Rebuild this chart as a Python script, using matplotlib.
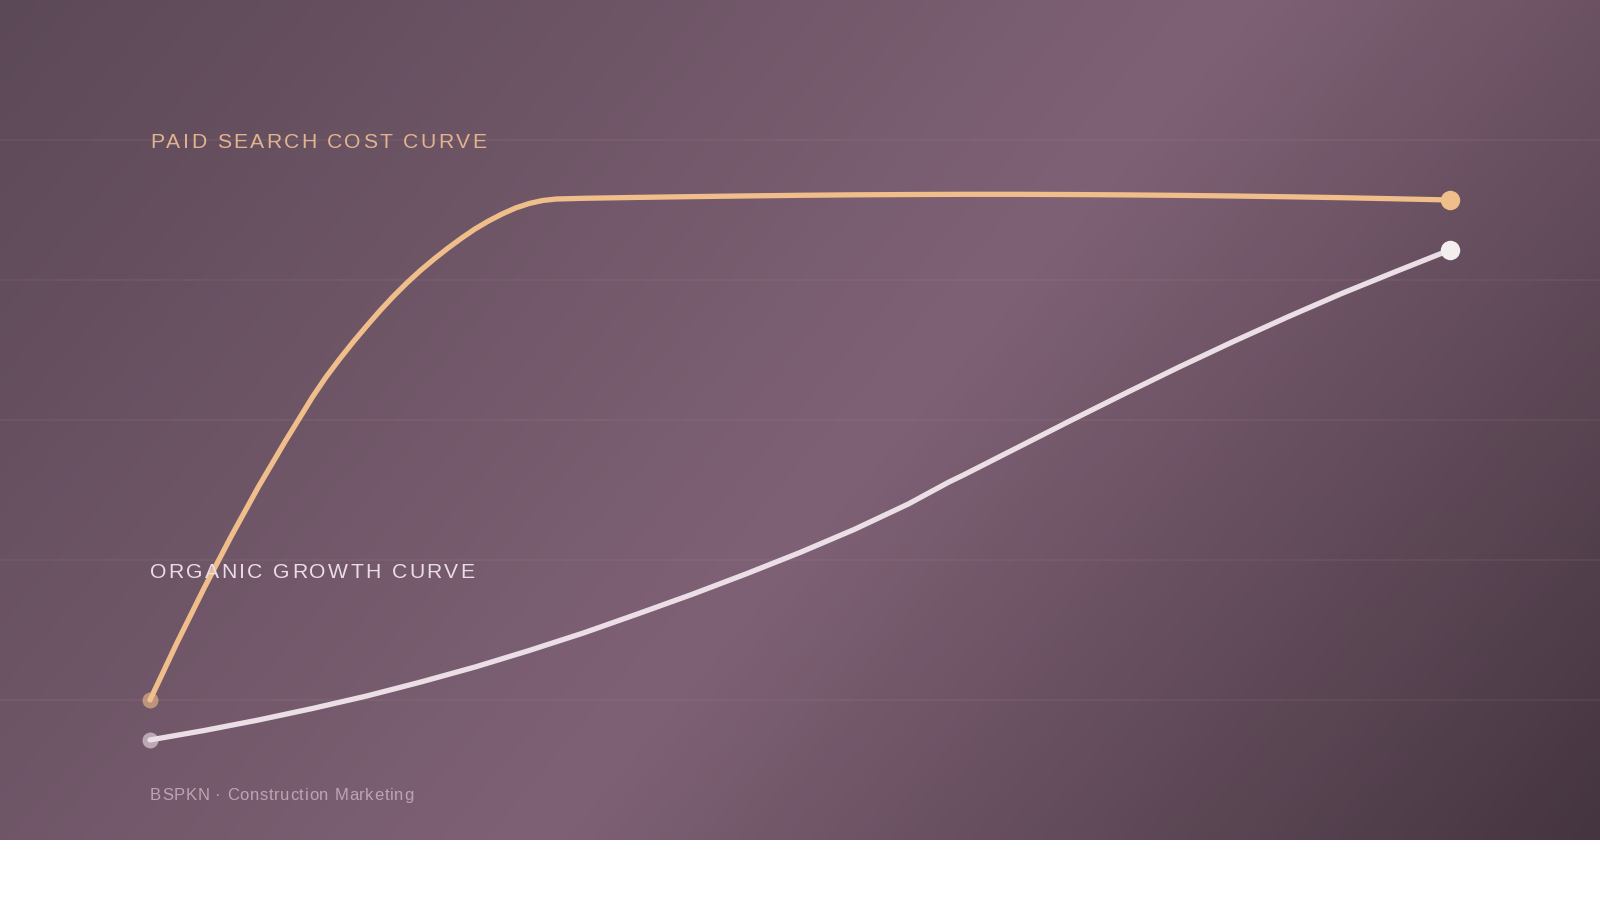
import numpy as np
import matplotlib
matplotlib.use("Agg")
import matplotlib.pyplot as plt
from matplotlib.colors import LinearSegmentedColormap
from matplotlib.font_manager import FontProperties

# ---------------- data (months vs. index) ----------------
paid_months = [0, 0.5, 1, 1.5, 2, 2.25, 2.5, 2.75, 3, 3.25, 3.5, 3.75,
               4, 4.25, 4.5, 4.75, 5, 5.25, 5.5, 5.75, 6, 6.25, 6.5, 6.75,
               7, 7.25, 7.5, 8,
               9, 10, 11, 12, 13, 14, 15, 16, 17, 18, 19, 20, 21, 22, 23, 24]
paid_cost = [20.0, 28.2, 36.0, 43.4, 50.43, 53.71, 57.0, 60.14, 63.29, 66.14, 68.71, 71.14,
             73.43, 75.65, 77.72, 79.64, 81.41, 83.03, 84.55, 85.97, 87.29, 88.43, 89.43, 90.29,
             90.93, 91.36, 91.57, 91.67,
             91.80, 91.91, 92.01, 92.10, 92.17, 92.21, 92.24, 92.24, 92.21, 92.16, 92.09,
             92.0, 91.89, 91.76, 91.6, 91.43]

organic_months = [0, 1, 2, 3, 4, 5, 6, 7, 8, 9, 10, 11, 12, 13, 14, 14.75,
                  15, 16, 17, 18, 19, 20, 21, 22, 23, 24]
organic_growth = [14.29, 15.64, 17.14, 18.79, 20.57, 22.57, 24.71, 27.07, 29.57, 32.29,
                  35.07, 38.0, 41.07, 44.36, 48.0, 51.14, 52.07, 56.0, 59.93, 63.79,
                  67.57, 71.21, 74.71, 78.07, 81.21, 84.29]

grid_levels = [20, 40, 60, 80, 100]

paid_label = "PAID SEARCH COST CURVE"
organic_label = "ORGANIC GROWTH CURVE"
footer_label = "BSPKN · Construction Marketing"

# ---------------- styling ----------------
PAID_COLOR = "#f0be8a"
ORGANIC_COLOR = "#ebdfe5"
W, H = 1600, 900
BG_H = 840

plt.rcParams['font.family'] = ['Liberation Sans', 'DejaVu Sans']

fig = plt.figure(figsize=(16, 9), dpi=100)
fig.patch.set_facecolor("white")

# background gradient
ax_bg = fig.add_axes([0, (H - BG_H) / H, 1, BG_H / H])
ax_bg.set_axis_off()
nx, ny = 400, 210
xs = np.linspace(0, W, nx)
ys = np.linspace(0, BG_H, ny)
X, Y = np.meshgrid(xs, ys)
T = (X * 840 + Y * 700) / (W * 840 + BG_H * 700)
cmap = LinearSegmentedColormap.from_list(
    "bg", [(0.0, "#5c4957"), (0.54, "#7f6175"), (1.0, "#453540")])
ax_bg.imshow(T, cmap=cmap, aspect="auto", extent=[0, 1, 0, 1],
             origin="upper", vmin=0, vmax=1, interpolation="bilinear")
ax_bg.set_xlim(0, 1)
ax_bg.set_ylim(0, 1)

# main axes (same region, transparent)
ax = fig.add_axes([0, (H - BG_H) / H, 1, BG_H / H])
ax.set_facecolor("none")
px_per_month = 1300 / 24
ax.set_xlim(-150 / px_per_month, (W - 150) / px_per_month)
ax.set_ylim(0, BG_H / 7)
for s in ax.spines.values():
    s.set_visible(False)
ax.set_xticks([])
ax.set_yticks([])

for g in grid_levels:
    ax.axhline(g, color="#d4a8a8", alpha=0.09, lw=1.2, zorder=1)

# start dots (translucent, under the lines)
ax.plot(paid_months[0], paid_cost[0], 'o', ms=11.5, color=PAID_COLOR, alpha=0.6,
        mec="none", zorder=2)
ax.plot(organic_months[0], organic_growth[0], 'o', ms=11.5, color=ORGANIC_COLOR,
        alpha=0.6, mec="none", zorder=2)

# lines
ax.plot(paid_months, paid_cost, color=PAID_COLOR, lw=3.8, solid_capstyle="round",
        solid_joinstyle="round", zorder=3)
ax.plot(organic_months, organic_growth, color=ORGANIC_COLOR, lw=3.8,
        solid_capstyle="round", solid_joinstyle="round", zorder=3)

# end dots
ax.plot(paid_months[-1], paid_cost[-1], 'o', ms=14, color=PAID_COLOR, mec="none",
        zorder=4)
ax.plot(organic_months[-1], organic_growth[-1], 'o', ms=14, color="#f4efef",
        mec="none", zorder=4)

# labels with letter spacing (tracking)
renderer = fig.canvas.get_renderer()


def tracked_text(x_px, y_px, s, size, color, spacing_px):
    prop = FontProperties(family=['Liberation Sans', 'DejaVu Sans'], size=size)
    base, _, _ = renderer.get_text_width_height_descent("xx", prop, ismath=False)
    x = x_px
    for ch in s:
        w, _, _ = renderer.get_text_width_height_descent("x" + ch + "x", prop, ismath=False)
        adv = w - base
        fig.text(x / W, 1 - y_px / H, ch, fontproperties=prop, color=color,
                 ha="left", va="baseline")
        x += adv + spacing_px


tracked_text(150, 148.5, paid_label, 15.2, "#e2b38f", 2.3)
tracked_text(150, 578.5, organic_label, 15.2, "#eadde5", 2.3)
tracked_text(150, 800, footer_label, 12, "#bca4b6", 0.7)

fig.savefig("out.png", dpi=100, facecolor=fig.get_facecolor())
